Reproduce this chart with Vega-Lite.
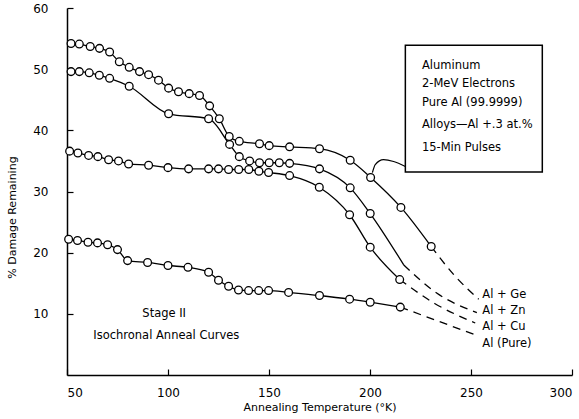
{
  "$schema": "https://vega.github.io/schema/vega-lite/v6.json",
  "width": 505,
  "height": 367,
  "autosize": {"type": "none"},
  "padding": {"left": 67, "top": 8, "right": 7, "bottom": 44},
  "background": "white",
  "config": {
    "view": {"stroke": null},
    "font": "DejaVu Sans",
    "axis": {"grid": false, "domainColor": "black", "domainWidth": 1.5, "tickColor": "black", "tickWidth": 1.2, "labelColor": "black", "titleColor": "black", "labelFont": "DejaVu Sans", "titleFont": "DejaVu Sans", "titleFontWeight": "normal"}
  },
  "datasets": {
    "curves": [
      {"series": "Ge", "temp": 52.0, "damage": 54.2, "pt": true},
      {"series": "Ge", "temp": 56.1, "damage": 54.1, "pt": true},
      {"series": "Ge", "temp": 61.5, "damage": 53.7, "pt": true},
      {"series": "Ge", "temp": 66.1, "damage": 53.4, "pt": true},
      {"series": "Ge", "temp": 71.1, "damage": 52.8, "pt": true},
      {"series": "Ge", "temp": 75.9, "damage": 51.2, "pt": true},
      {"series": "Ge", "temp": 80.8, "damage": 50.3, "pt": true},
      {"series": "Ge", "temp": 85.9, "damage": 49.6, "pt": true},
      {"series": "Ge", "temp": 90.4, "damage": 49.1, "pt": true},
      {"series": "Ge", "temp": 95.3, "damage": 48.2, "pt": true},
      {"series": "Ge", "temp": 100.3, "damage": 46.9, "pt": true},
      {"series": "Ge", "temp": 105.2, "damage": 46.3, "pt": true},
      {"series": "Ge", "temp": 110.5, "damage": 46.0, "pt": true},
      {"series": "Ge", "temp": 115.6, "damage": 45.7, "pt": true},
      {"series": "Ge", "temp": 120.6, "damage": 44.0, "pt": true},
      {"series": "Ge", "temp": 125.4, "damage": 41.9, "pt": true},
      {"series": "Ge", "temp": 130.3, "damage": 39.0, "pt": true},
      {"series": "Ge", "temp": 135.3, "damage": 38.2, "pt": true},
      {"series": "Ge", "temp": 145.3, "damage": 37.8, "pt": true},
      {"series": "Ge", "temp": 150.1, "damage": 37.5, "pt": true},
      {"series": "Ge", "temp": 160.2, "damage": 37.3, "pt": true},
      {"series": "Ge", "temp": 175.0, "damage": 37.0, "pt": true},
      {"series": "Ge", "temp": 190.2, "damage": 35.1, "pt": true},
      {"series": "Ge", "temp": 200.3, "damage": 32.3, "pt": true},
      {"series": "Ge", "temp": 215.3, "damage": 27.4, "pt": true},
      {"series": "Ge", "temp": 230.3, "damage": 21.0, "pt": true},

      {"series": "Zn", "temp": 52.0, "damage": 49.6, "pt": true},
      {"series": "Zn", "temp": 56.1, "damage": 49.6, "pt": true},
      {"series": "Zn", "temp": 61.0, "damage": 49.4, "pt": true},
      {"series": "Zn", "temp": 66.0, "damage": 49.0, "pt": true},
      {"series": "Zn", "temp": 71.1, "damage": 48.5, "pt": true},
      {"series": "Zn", "temp": 80.8, "damage": 47.2, "pt": true},
      {"series": "Zn", "temp": 100.3, "damage": 42.7, "pt": true},
      {"series": "Zn", "temp": 120.1, "damage": 41.9, "pt": true},
      {"series": "Zn", "temp": 130.5, "damage": 37.7, "pt": true},
      {"series": "Zn", "temp": 135.3, "damage": 35.7, "pt": true},
      {"series": "Zn", "temp": 140.4, "damage": 35.0, "pt": true},
      {"series": "Zn", "temp": 145.3, "damage": 34.7, "pt": true},
      {"series": "Zn", "temp": 150.1, "damage": 34.7, "pt": true},
      {"series": "Zn", "temp": 155.1, "damage": 34.7, "pt": true},
      {"series": "Zn", "temp": 160.2, "damage": 34.6, "pt": true},
      {"series": "Zn", "temp": 175.0, "damage": 33.7, "pt": true},
      {"series": "Zn", "temp": 190.2, "damage": 30.6, "pt": true},
      {"series": "Zn", "temp": 200.1, "damage": 26.4, "pt": true},
      {"series": "Zn", "temp": 216.7, "damage": 18.0, "pt": false},

      {"series": "Cu", "temp": 51.3, "damage": 36.6, "pt": true},
      {"series": "Cu", "temp": 55.4, "damage": 36.3, "pt": true},
      {"series": "Cu", "temp": 60.7, "damage": 35.9, "pt": true},
      {"series": "Cu", "temp": 65.3, "damage": 35.7, "pt": true},
      {"series": "Cu", "temp": 70.6, "damage": 35.2, "pt": true},
      {"series": "Cu", "temp": 75.5, "damage": 35.0, "pt": true},
      {"series": "Cu", "temp": 80.5, "damage": 34.5, "pt": true},
      {"series": "Cu", "temp": 90.4, "damage": 34.3, "pt": true},
      {"series": "Cu", "temp": 100.0, "damage": 33.9, "pt": true},
      {"series": "Cu", "temp": 110.2, "damage": 33.7, "pt": true},
      {"series": "Cu", "temp": 120.1, "damage": 33.7, "pt": true},
      {"series": "Cu", "temp": 125.0, "damage": 33.7, "pt": true},
      {"series": "Cu", "temp": 130.0, "damage": 33.6, "pt": true},
      {"series": "Cu", "temp": 135.0, "damage": 33.6, "pt": true},
      {"series": "Cu", "temp": 140.0, "damage": 33.6, "pt": true},
      {"series": "Cu", "temp": 145.0, "damage": 33.3, "pt": true},
      {"series": "Cu", "temp": 149.8, "damage": 33.1, "pt": true},
      {"series": "Cu", "temp": 160.2, "damage": 32.6, "pt": true},
      {"series": "Cu", "temp": 174.9, "damage": 30.7, "pt": true},
      {"series": "Cu", "temp": 189.9, "damage": 26.2, "pt": true},
      {"series": "Cu", "temp": 200.1, "damage": 20.9, "pt": true},
      {"series": "Cu", "temp": 214.7, "damage": 15.6, "pt": true},

      {"series": "Pure", "temp": 50.8, "damage": 22.2, "pt": true},
      {"series": "Pure", "temp": 55.2, "damage": 22.0, "pt": true},
      {"series": "Pure", "temp": 60.4, "damage": 21.7, "pt": true},
      {"series": "Pure", "temp": 65.1, "damage": 21.6, "pt": true},
      {"series": "Pure", "temp": 70.1, "damage": 21.3, "pt": true},
      {"series": "Pure", "temp": 75.0, "damage": 20.5, "pt": true},
      {"series": "Pure", "temp": 80.0, "damage": 18.7, "pt": true},
      {"series": "Pure", "temp": 89.9, "damage": 18.4, "pt": true},
      {"series": "Pure", "temp": 100.0, "damage": 17.9, "pt": true},
      {"series": "Pure", "temp": 109.9, "damage": 17.6, "pt": true},
      {"series": "Pure", "temp": 120.1, "damage": 16.8, "pt": true},
      {"series": "Pure", "temp": 125.0, "damage": 15.5, "pt": true},
      {"series": "Pure", "temp": 130.0, "damage": 14.5, "pt": true},
      {"series": "Pure", "temp": 134.9, "damage": 13.9, "pt": true},
      {"series": "Pure", "temp": 139.9, "damage": 13.8, "pt": true},
      {"series": "Pure", "temp": 144.9, "damage": 13.8, "pt": true},
      {"series": "Pure", "temp": 149.8, "damage": 13.8, "pt": true},
      {"series": "Pure", "temp": 159.7, "damage": 13.5, "pt": true},
      {"series": "Pure", "temp": 175.0, "damage": 13.0, "pt": true},
      {"series": "Pure", "temp": 189.9, "damage": 12.4, "pt": true},
      {"series": "Pure", "temp": 200.1, "damage": 11.9, "pt": true},
      {"series": "Pure", "temp": 215.0, "damage": 11.1, "pt": true}
    ],
    "dashes": [
      {"series": "Ge", "temp": 230.3, "damage": 21.0},
      {"series": "Ge", "temp": 242.0, "damage": 16.2},
      {"series": "Ge", "temp": 253.8, "damage": 12.4},
      {"series": "Zn", "temp": 216.7, "damage": 18.0},
      {"series": "Zn", "temp": 233.0, "damage": 13.4},
      {"series": "Zn", "temp": 252.9, "damage": 10.2},
      {"series": "Cu", "temp": 214.7, "damage": 15.6},
      {"series": "Cu", "temp": 232.0, "damage": 11.7},
      {"series": "Cu", "temp": 252.1, "damage": 8.5},
      {"series": "Pure", "temp": 215.0, "damage": 11.1},
      {"series": "Pure", "temp": 251.8, "damage": 6.6}
    ],
    "leader": [
      {"temp": 201.2, "damage": 33.1},
      {"temp": 202.6, "damage": 34.4},
      {"temp": 206.7, "damage": 35.2},
      {"temp": 211.7, "damage": 34.9},
      {"temp": 217.5, "damage": 34.1}
    ],
    "box": [
      {"temp": 217.5, "temp2": 285.3, "damage": 33.2, "damage2": 53.9}
    ],
    "notes": [
      {"temp": 225.7, "damage": 50.5, "text": "Aluminum"},
      {"temp": 225.7, "damage": 47.5, "text": "2-MeV  Electrons"},
      {"temp": 225.7, "damage": 44.4, "text": "Pure  Al  (99.9999)"},
      {"temp": 225.7, "damage": 40.8, "text": "Alloys—Al +.3 at.%"},
      {"temp": 225.7, "damage": 37.1, "text": "15-Min  Pulses"},
      {"temp": 255.6, "damage": 13.1, "text": "Al + Ge"},
      {"temp": 255.6, "damage": 10.4, "text": "Al + Zn"},
      {"temp": 255.6, "damage": 7.9, "text": "Al + Cu"},
      {"temp": 255.6, "damage": 5.1, "text": "Al (Pure)"},
      {"temp": 87.3, "damage": 9.9, "text": "Stage II"},
      {"temp": 63.0, "damage": 6.3, "text": "Isochronal  Anneal  Curves"}
    ]
  },
  "encoding": {
    "x": {"field": "temp", "type": "quantitative", "scale": {"domain": [50, 300], "nice": false, "zero": false},
      "axis": {"title": "Annealing Temperature (°K)", "values": [50, 100, 150, 200, 250, 300], "tickSize": -6, "labelPadding": 18, "labelFontSize": 12, "titleFontSize": 11, "titleY": 26, "titleBaseline": "top"}},
    "y": {"field": "damage", "type": "quantitative", "scale": {"domain": [0, 60], "nice": false},
      "axis": {"title": "% Damage Remaining", "values": [10, 20, 30, 40, 50, 60], "tickSize": -6, "labelPadding": 25, "labelFontSize": 12, "titleFontSize": 11, "titleX": -50, "titleY": 209}}
  },
  "layer": [
    {"data": {"name": "box"}, "mark": {"type": "rect", "fill": "white", "stroke": "black", "strokeWidth": 1.5},
      "encoding": {"x2": {"field": "temp2"}, "y2": {"field": "damage2"}}},
    {"data": {"name": "leader"}, "mark": {"type": "line", "interpolate": "monotone", "color": "black", "strokeWidth": 1.2}, "encoding": {}},
    {"data": {"name": "curves"}, "mark": {"type": "line", "interpolate": "monotone", "color": "black", "strokeWidth": 1.3},
      "encoding": {"detail": {"field": "series"}}},
    {"data": {"name": "dashes"}, "mark": {"type": "line", "interpolate": "monotone", "color": "black", "strokeWidth": 1.3, "strokeDash": [8, 6]},
      "encoding": {"detail": {"field": "series"}}},
    {"data": {"name": "curves"}, "transform": [{"filter": "datum.pt"}],
      "mark": {"type": "point", "shape": "circle", "filled": true, "fill": "white", "stroke": "black", "strokeWidth": 1.3, "size": 60, "opacity": 1}},
    {"data": {"name": "notes"}, "mark": {"type": "text", "align": "left", "baseline": "middle", "fontSize": 11.5, "font": "DejaVu Sans", "color": "black"},
      "encoding": {"text": {"field": "text"}}}
  ]
}
